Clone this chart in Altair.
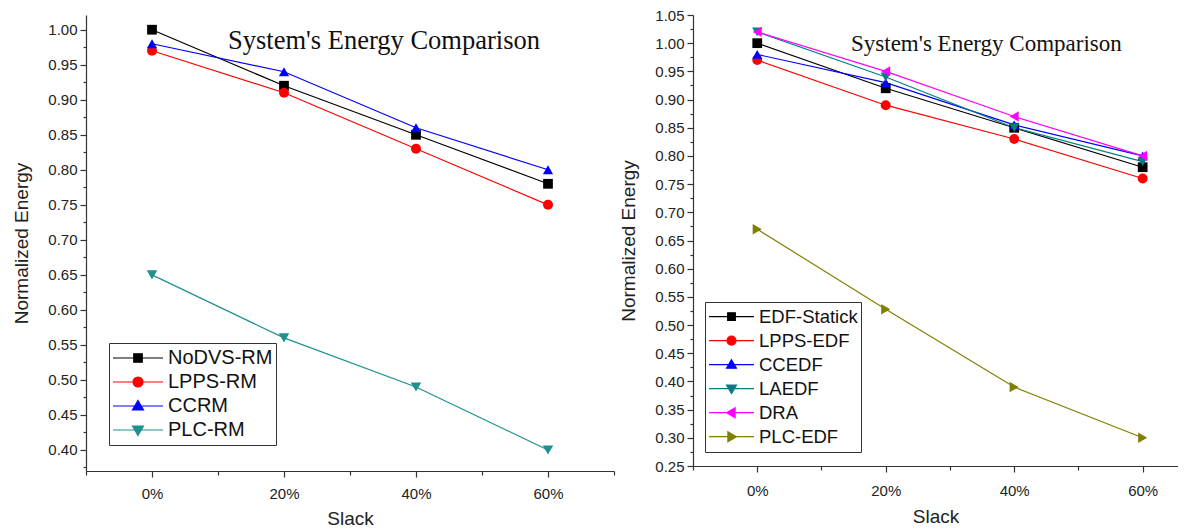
import altair as alt
import pandas as pd

# ---------------- data ----------------
slack = [0, 20, 40, 60]

left_names = ["NoDVS-RM", "LPPS-RM", "CCRM", "PLC-RM"]
nodvs_rm = [1.00, 0.92, 0.85, 0.78]
lpps_rm = [0.97, 0.91, 0.83, 0.75]
ccrm = [0.98, 0.94, 0.86, 0.80]
plc_rm = [0.65, 0.56, 0.49, 0.40]
left_values = [nodvs_rm, lpps_rm, ccrm, plc_rm]
left_colors = ["#000000", "#FF0000", "#0000FF", "#1E9090"]
left_shapes = ["square", "circle", "triangle-up", "triangle-down"]

right_names = ["EDF-Statick", "LPPS-EDF", "CCEDF", "LAEDF", "DRA", "PLC-EDF"]
edf_statick = [1.00, 0.92, 0.85, 0.78]
lpps_edf = [0.97, 0.89, 0.83, 0.76]
ccedf = [0.98, 0.93, 0.855, 0.80]
laedf = [1.02, 0.94, 0.85, 0.79]
dra = [1.02, 0.95, 0.87, 0.80]
plc_edf = [0.67, 0.528, 0.39, 0.30]
right_values = [edf_statick, lpps_edf, ccedf, laedf, dra, plc_edf]
right_colors = ["#000000", "#FF0000", "#0000FF", "#008080", "#FF00FF", "#808000"]
right_shapes = ["square", "circle", "triangle-up", "triangle-down", "triangle-left", "triangle-right"]

title_text = "System's Energy Comparison"

# marker sizes per shape (style)
shape_sizes = {"square": 95, "circle": 110, "triangle-up": 190, "triangle-down": 190,
               "triangle-left": 190, "triangle-right": 190}

# legend glyphs: line segment + marker (custom symbol paths)
marker_paths = {
    "square": "M-0.17,-0.17H0.17V0.17H-0.17Z",
    "circle": "M0.2,0A0.2,0.2,0,1,1,-0.2,0A0.2,0.2,0,1,1,0.2,0Z",
    "triangle-up": "M0,-0.22L0.22,0.16L-0.22,0.16Z",
    "triangle-down": "M0,0.22L0.22,-0.16L-0.22,-0.16Z",
    "triangle-left": "M-0.22,0L0.16,-0.22L0.16,0.22Z",
    "triangle-right": "M0.22,0L-0.16,-0.22L-0.16,0.22Z",
}

SANS = "Liberation Sans"
SERIF = "Liberation Serif"
AXIS_COLOR = "#333333"
TEXT_COLOR = "#222222"


def make_df(names, values):
    rows = []
    for name, vals in zip(names, values):
        for s, v in zip(slack, vals):
            rows.append({"series": name, "slack": s, "value": v})
    return pd.DataFrame(rows)


def panel(names, values, colors, shapes, ydom, ystart, ystep_count, xdom, xvals,
          width, height, leg_x, leg_y, leg_font, leg_clip, leg_size,
          title_x, title_y, title_size, xlab_pad, xtitle_pad):
    df = make_df(names, values)
    yvals = [round(ystart + 0.025 * i, 3) for i in range(ystep_count)]
    major_y = "abs(datum.value*20 - round(datum.value*20)) < 0.001"
    xaxis = alt.Axis(
        values=xvals,
        labelExpr="datum.value >= 0 && datum.value <= 60 && datum.value % 20 == 0 ? datum.value + '%' : ''",
        tickSize={"condition": {"test": "datum.value >= 0 && datum.value % 20 == 0", "value": 6}, "value": 4},
        title="Slack", grid=False, domainColor=AXIS_COLOR, tickColor=AXIS_COLOR,
        domainWidth=1.2, tickWidth=1.2,
        labelFont=SANS, labelFontSize=15, labelColor=TEXT_COLOR, labelPadding=xlab_pad,
        titleFont=SANS, titleFontSize=19, titleFontWeight="normal", titleColor=TEXT_COLOR,
        titlePadding=xtitle_pad, labelOverlap=False, labelFlush=False,
    )
    yaxis = alt.Axis(
        values=yvals,
        labelExpr=major_y + " ? format(datum.value, '.2f') : ''",
        tickSize={"condition": {"test": major_y, "value": 6}, "value": 3},
        title="Normalized Energy", grid=False, domainColor=AXIS_COLOR, tickColor=AXIS_COLOR,
        domainWidth=1.2, tickWidth=1.2,
        labelFont=SANS, labelFontSize=15, labelColor=TEXT_COLOR, labelPadding=3,
        titleFont=SANS, titleFontSize=19, titleFontWeight="normal", titleColor=TEXT_COLOR,
        titlePadding=16, labelOverlap=False, labelFlush=False,
    )
    x = alt.X("slack:Q", scale=alt.Scale(domain=xdom, nice=False, zero=False), axis=xaxis)
    y = alt.Y("value:Q", scale=alt.Scale(domain=ydom, nice=False, zero=False), axis=yaxis)
    cscale = alt.Scale(domain=names, range=colors)
    base = alt.Chart(df).encode(x=x, y=y)

    lines = base.mark_line(strokeWidth=1.2).encode(
        color=alt.Color("series:N", scale=cscale, legend=None),
    )
    points = base.mark_point(filled=True, opacity=1).encode(
        color=alt.Color("series:N", scale=cscale, legend=None),
        shape=alt.Shape("series:N", scale=alt.Scale(domain=names, range=shapes), legend=None),
        size=alt.Size("series:N", scale=alt.Scale(domain=names, range=[shape_sizes[s] for s in shapes]),
                      legend=None),
    )
    color_expr = "{" + ",".join("'%s':'%s'" % (n, c) for n, c in zip(names, colors)) + "}[datum.value]"
    leg = alt.Legend(
        title=None, orient="none", legendX=leg_x, legendY=leg_y,
        strokeColor="#333333", fillColor="white", padding=3, rowPadding=0,
        clipHeight=leg_clip, symbolSize=leg_size, symbolStrokeWidth=1.2,
        symbolStrokeColor={"expr": color_expr}, symbolOpacity=1,
        labelFont=SANS, labelFontSize=leg_font, labelColor="#111111",
        labelOffset=4, labelLimit=300,
    )
    paths = ["M-1,0L1,0" + marker_paths[s] for s in shapes]
    legend_layer = base.transform_filter("false").mark_point(filled=True, opacity=1).encode(
        fill=alt.Fill("series:N", scale=alt.Scale(domain=names, range=colors), legend=leg),
        stroke=alt.Stroke("series:N", scale=alt.Scale(domain=names, range=colors), legend=leg),
        shape=alt.Shape("series:N", scale=alt.Scale(domain=names, range=paths), legend=leg),
    )
    title = alt.Chart(pd.DataFrame({"label": [title_text]})).mark_text(
        font=SERIF, fontSize=title_size, align="left", baseline="middle", color="#111111"
    ).encode(x=alt.value(title_x), y=alt.value(title_y), text="label:N")

    return alt.layer(lines, points, legend_layer, title).resolve_scale(
        shape="independent", fill="independent", stroke="independent", size="independent"
    ).properties(width=width, height=height)


left = panel(left_names, left_values, left_colors, left_shapes,
             ydom=[0.37, 1.021], ystart=0.375, ystep_count=26, xdom=[-10, 70],
             xvals=[-10, 0, 10, 20, 30, 40, 50, 60, 70],
             width=528, height=456, leg_x=23, leg_y=328, leg_font=20,
             leg_clip=24, leg_size=2500, title_x=142, title_y=26, title_size=26.5,
             xlab_pad=9, xtitle_pad=8)

right = panel(right_names, right_values, right_colors, right_shapes,
              ydom=[0.25, 1.05], ystart=0.25, ystep_count=33, xdom=[-10, 65.5],
              xvals=[-10, 0, 10, 20, 30, 40, 50, 60],
              width=485, height=451, leg_x=12, leg_y=287, leg_font=18.5,
              leg_clip=23.3, leg_size=2025, title_x=158, title_y=29, title_size=23,
              xlab_pad=11, xtitle_pad=9)

chart = alt.hconcat(left, right, spacing=4).resolve_scale(
    color="independent", shape="independent", fill="independent", stroke="independent",
    size="independent"
).properties(
    padding={"left": 4, "top": 0, "right": 0, "bottom": 0}
).configure_view(stroke=None)

chart.save("out.html", embed_options={"renderer": "svg", "actions": False})
